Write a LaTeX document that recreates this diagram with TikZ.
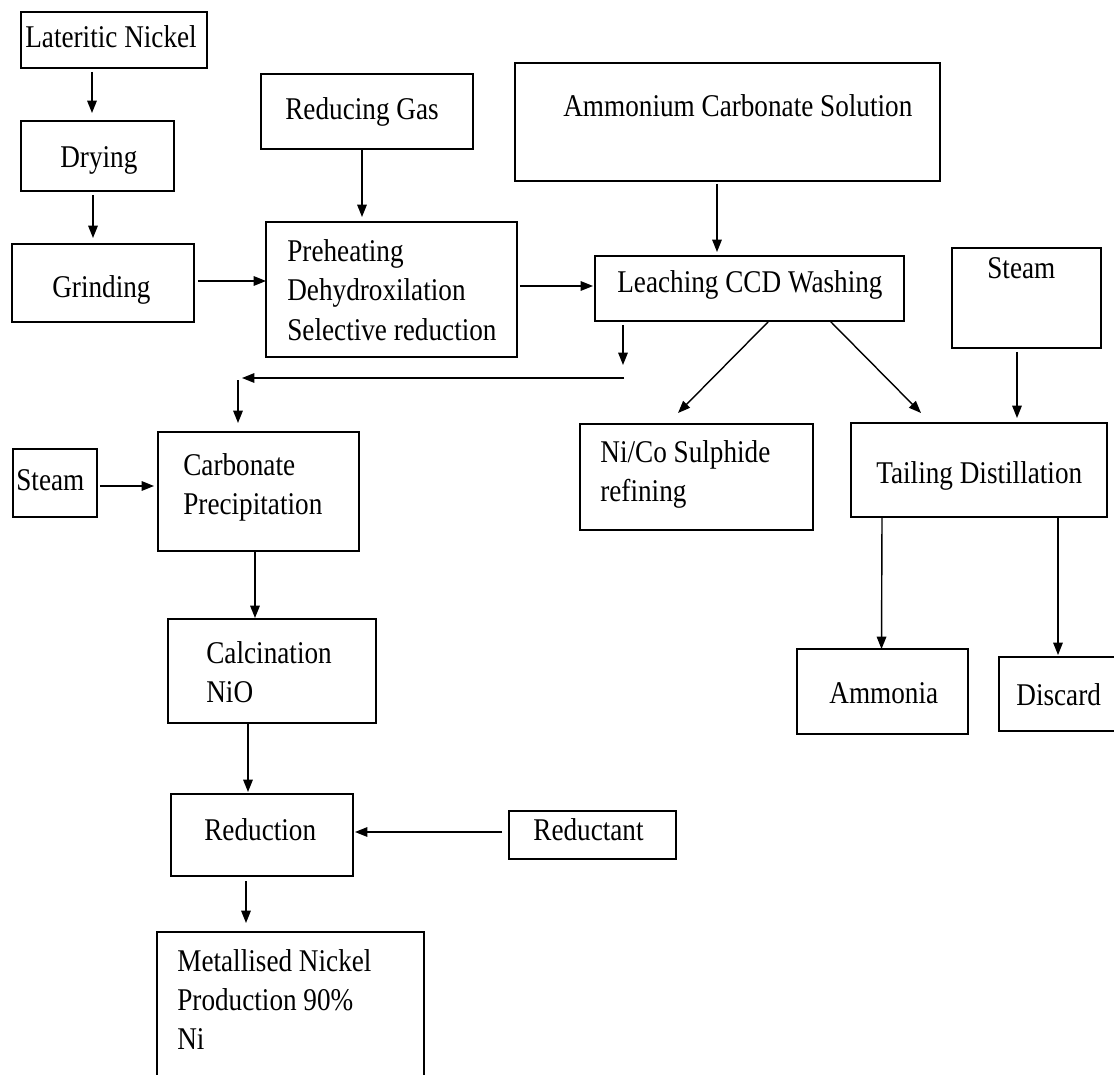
\documentclass[tikz,border=0pt]{standalone}
\usepackage{fontspec}
\setmainfont{Liberation Serif}[FakeStretch=0.86]
\usetikzlibrary{arrows.meta,calc}

\tikzset{
  box/.style={draw,rectangle,line width=0.8pt,inner sep=0pt,outer sep=0pt},
  txt/.style={inner sep=0pt,anchor=base west,align=left},
  arr/.style={-{Triangle[length=7pt,width=5.4pt]},line width=0.8pt}
}

\begin{document}
\begin{tikzpicture}[x=0.02cm,y=-0.02cm,font=\fontsize{18pt}{22.2pt}\selectfont]
\useasboundingbox (0,0) rectangle (1114,1074);
% boxes
\node (ln) at (114,40) [box,minimum width=3.72cm,minimum height=1.12cm] {};
\node (dry) at (97.5,156) [box,minimum width=3.06cm,minimum height=1.4cm] {};
\node (grind) at (103,283) [box,minimum width=3.64cm,minimum height=1.56cm] {};
\node (gas) at (367,111.5) [box,minimum width=4.24cm,minimum height=1.5cm] {};
\node (preh) at (391.5,289.5) [box,minimum width=5.02cm,minimum height=2.7cm] {};
\node (amm) at (727.5,122) [box,minimum width=8.5cm,minimum height=2.36cm] {};
\node (leach) at (749.5,288.5) [box,minimum width=6.18cm,minimum height=1.3cm] {};
\node (steam1) at (1026.5,298) [box,minimum width=2.98cm,minimum height=2cm] {};
\node (sulph) at (696.5,477) [box,minimum width=4.66cm,minimum height=2.12cm] {};
\node (tail) at (979,470) [box,minimum width=5.12cm,minimum height=1.88cm] {};
\node (steam2) at (55,483) [box,minimum width=1.68cm,minimum height=1.36cm] {};
\node (carb) at (258.5,491.5) [box,minimum width=4.02cm,minimum height=2.38cm] {};
\node (calcin) at (272,671) [box,minimum width=4.16cm,minimum height=2.08cm] {};
\node (red) at (262,835) [box,minimum width=3.64cm,minimum height=1.64cm] {};
\node (redt) at (592.5,835) [box,minimum width=3.34cm,minimum height=0.96cm] {};
\node (met) at (290.5,1011) [box,minimum width=5.34cm,minimum height=3.16cm] {};
\node (ammo) at (882.5,691.5) [box,minimum width=3.42cm,minimum height=1.7cm] {};
\node (disc) at (1064.5,694) [box,minimum width=2.62cm,minimum height=1.48cm] {};
% texts (base = last line)
\node (lntext) at (25,48) [txt] {Lateritic Nickel};
\node (drytext) at (60,168) [txt] {Drying};
\node (grindtext) at (52,297) [txt] {Grinding};
\node (gastext) at (285,120) [txt] {Reducing Gas};
\node (prehtext) at (287,340) [txt] {Preheating\\Dehydroxilation\\Selective reduction};
\node (ammtext) at (563,117) [txt] {Ammonium Carbonate Solution};
\node (leachtext) at (617,293) [txt] {Leaching CCD Washing};
\node (steam1text) at (987,278) [txt] {Steam};
\node (sulphtext) at (600,501) [txt] {Ni/Co Sulphide\\refining};
\node (tailtext) at (876,483) [txt] {Tailing Distillation};
\node (steam2text) at (16,490) [txt] {Steam};
\node (carbtext) at (183,514) [txt] {Carbonate\\Precipitation};
\node (calcintext) at (206,702) [txt] {Calcination\\NiO};
\node (redtext) at (204,840) [txt] {Reduction};
\node (redttext) at (533,840) [txt] {Reductant};
\node (mettext) at (177,1049) [txt] {Metallised Nickel\\Production 90\%\\Ni};
\node (ammotext) at (829,703) [txt] {Ammonia};
\node (disctext) at (1016,705) [txt] {Discard};
% free ends of the return line
\coordinate (drop) at (624,378);
\coordinate (back) at (242,378);
\coordinate (turn) at (238,380);
% arrows
\draw[arr] ($(ln.south)+(-22,4)$) -- ($(dry.north)+(-5.5,-8)$);
\draw[arr] ($(dry.south)+(-4.5,4)$) -- ($(grind.north)+(-10,-6)$);
\draw[arr] ($(grind.east)+(4,-2)$) -- ($(preh.west)+(0,-8.5)$);
\draw[arr] ($(gas.south)+(-5,1)$) -- ($(preh.north)+(-29.5,-5)$);
\draw[arr] ($(preh.east)+(3,-3.5)$) -- ($(leach.west)+(-2,-2.5)$);
\draw[arr] ($(amm.south)+(-10.5,3)$) -- ($(leach.north)+(-32.5,-4)$);
\draw[arr] ($(leach.south)+(-126.5,4)$) -- ($(leach.south)+(-126.5,44)$);
\draw[arr] (drop) -- (back);
\draw[arr] (turn) -- ($(carb.north)+(-20.5,-9)$);
\draw[arr] ($(leach.south)+(18.5,1)$) -- ($(sulph.north)+(-18.5,-11)$);
\draw[arr] ($(leach.south)+(80.5,0)$) -- ($(tail.north)+(-58,-10)$);
\draw[arr] ($(steam1.south)+(-9.5,4)$) -- ($(tail.north)+(38,-5)$);
\draw[arr] ($(steam2.east)+(3,3)$) -- ($(carb.west)+(-4,-5.5)$);
\draw[arr] ($(carb.south)+(-3.5,0)$) -- ($(calcin.north)+(-17,-1)$);
\draw[arr] ($(calcin.south)+(-24,0)$) -- ($(red.north)+(-14,-2)$);
\draw[arr] ($(redt.west)+(-7,-3)$) -- ($(red.east)+(2,-3)$);
\draw[arr] ($(red.south)+(-16,5)$) -- ($(met.north)+(-44.5,-9)$);
\draw[arr] ($(tail.south)+(-97,0)$) -- ($(ammo.north)+(-1,0)$);
\draw[arr] ($(tail.south)+(79,0)$) -- ($(disc.north)+(-6.5,-2)$);
\end{tikzpicture}
\end{document}
